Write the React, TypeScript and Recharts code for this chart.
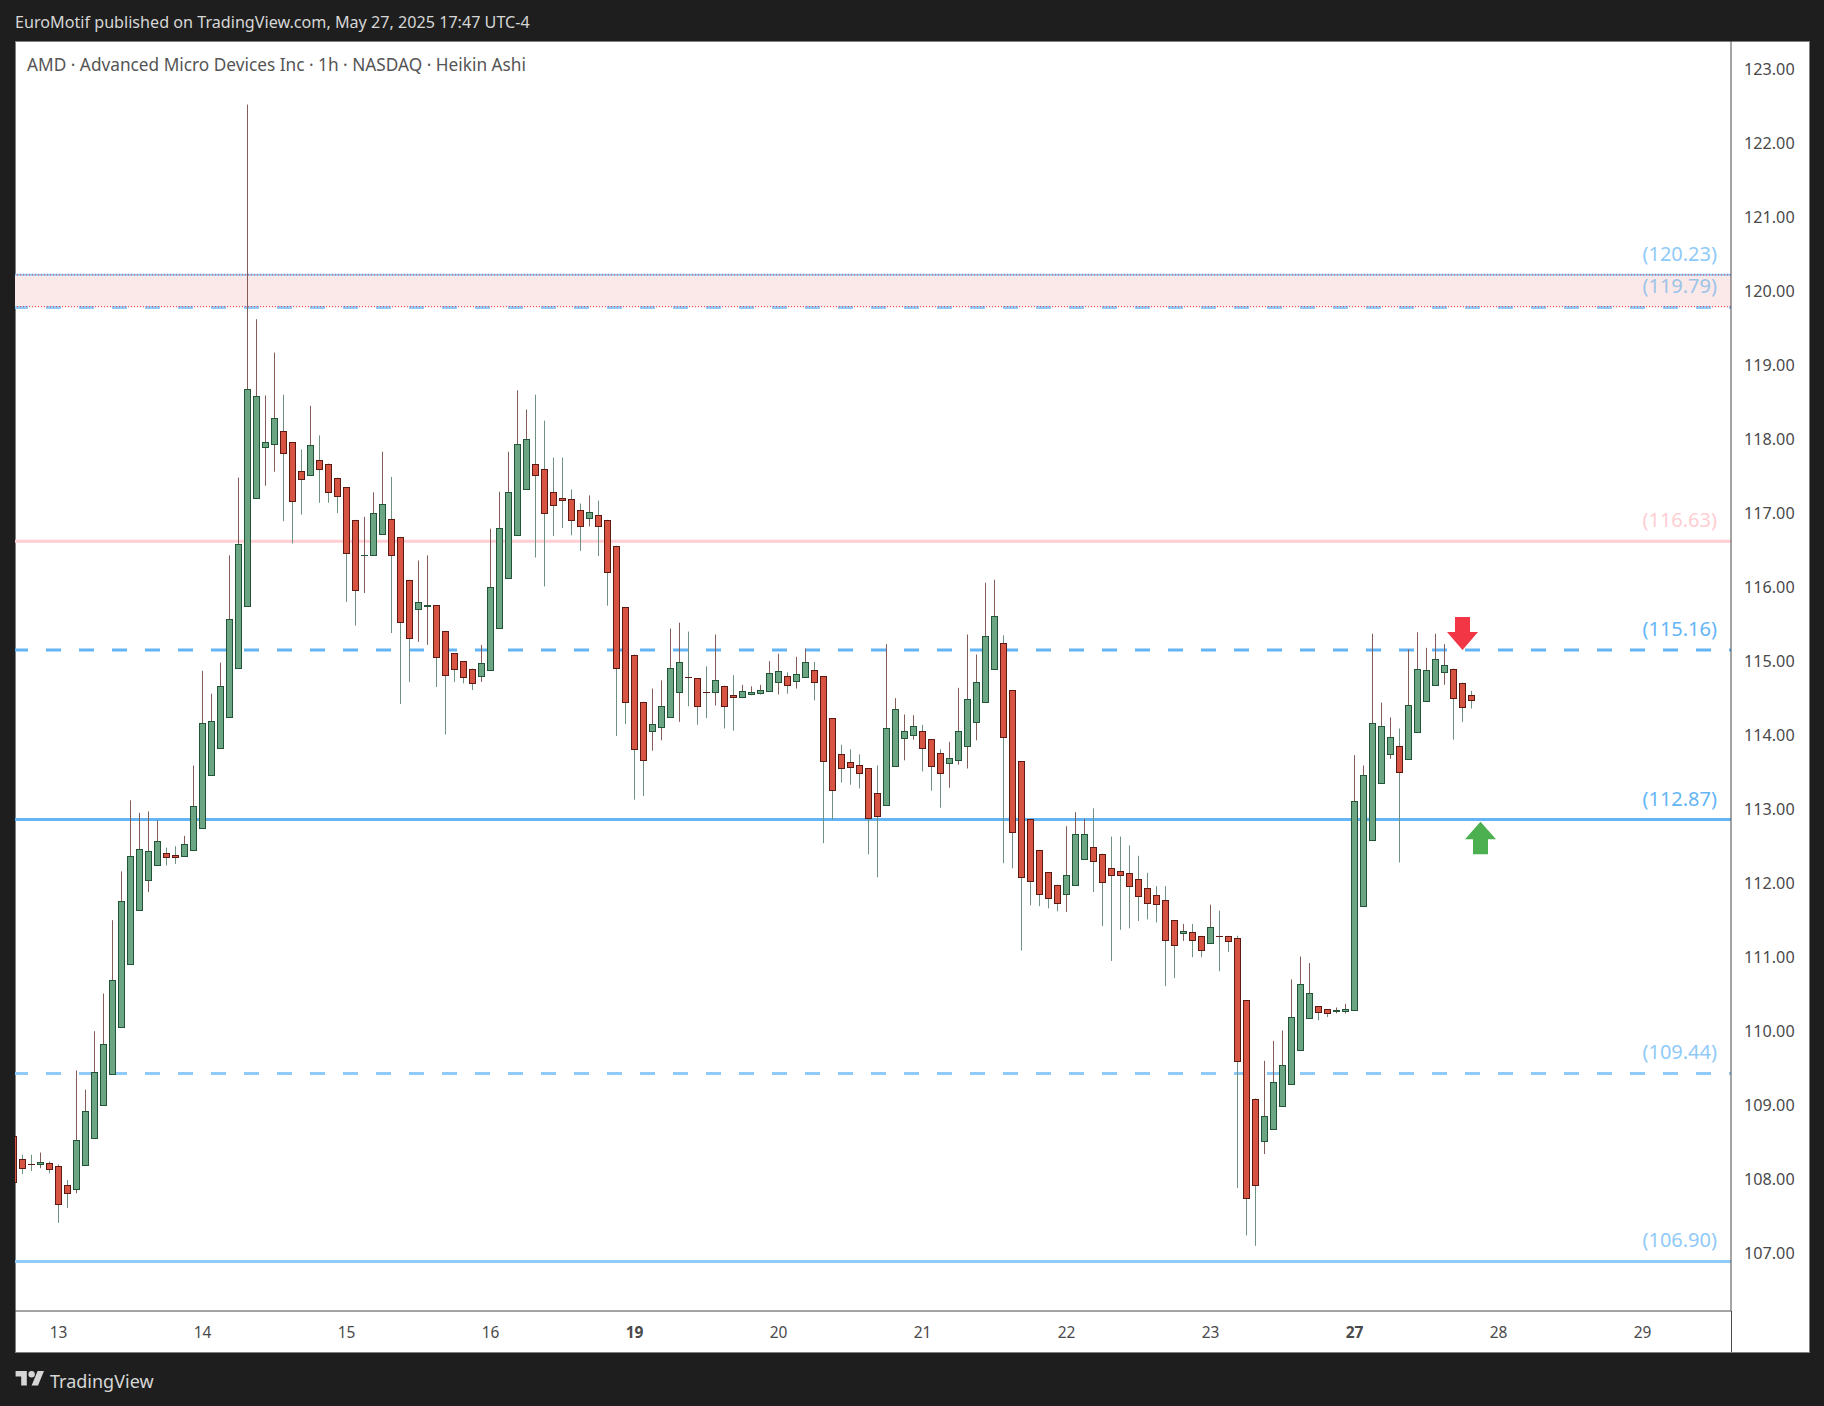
import { Bar, ComposedChart, ReferenceArea, ReferenceDot, ReferenceLine, XAxis, YAxis } from "recharts";

const FONT = "'Noto Sans', sans-serif";
const COLOR_UP = "#6ba583";
const COLOR_UP_BORDER = "#225437";
const COLOR_UP_WICK = "#865c58";
const COLOR_DOWN = "#d75442";
const COLOR_DOWN_BORDER = "#5b1a13";
const COLOR_DOWN_WICK = "#6f9280";
const COLOR_AXIS = "#4a4a4a";
const BLUE = "#64b5f6";
const LIGHT_BLUE = "#90caf9";
const PINK = "#ffcdd2";
const LEVEL_Z = 200;

const opens = [
  108.6, 108.28, 108.22, 108.22, 108.23, 108.19, 107.93, 107.88, 108.2, 108.57,
  109.01, 109.43, 110.07, 110.92, 111.65, 112.05, 112.26, 112.42, 112.39, 112.38,
  112.46, 112.76, 113.47, 113.84, 114.26, 114.92, 115.75, 117.21, 117.9, 117.94,
  118.12, 117.97, 117.58, 117.52, 117.73, 117.68, 117.49, 117.36, 116.92, 116.44,
  116.45, 116.73, 116.93, 116.69, 116.11, 115.72, 115.76, 115.77, 115.42, 115.12,
  115.01, 114.91, 114.81, 114.89, 115.46, 116.14, 116.72, 117.34, 117.68, 117.6,
  117.3, 117.22, 117.2, 117.05, 116.95, 116.99, 116.92, 116.57, 115.74, 115.1,
  114.46, 114.07, 114.12, 114.26, 114.6, 114.8, 114.78, 114.6, 114.6, 114.68,
  114.55, 114.53, 114.56, 114.58, 114.61, 114.73, 114.81, 114.74, 114.8, 114.89,
  114.81, 114.24, 113.76, 113.65, 113.61, 113.56, 113.23, 113.07, 113.6, 113.97,
  114.01, 114.07, 113.96, 113.77, 113.64, 113.68, 113.87, 114.19, 114.46, 114.91,
  115.26, 114.62, 113.66, 112.88, 112.46, 112.16, 111.99, 111.87, 111.99, 112.34,
  112.5, 112.41, 112.22, 112.18, 112.15, 112.06, 111.95, 111.85, 111.78, 111.51,
  111.34, 111.35, 111.3, 111.2, 111.3, 111.3, 111.27, 110.43, 109.1, 108.52,
  108.69, 109.0, 109.29, 109.75, 110.19, 110.35, 110.31, 110.28, 110.28, 110.29,
  111.7, 112.59, 113.37, 113.75, 113.87, 113.69, 114.05, 114.47, 114.69, 114.86,
  114.91, 114.72, 114.55,
];

const closes = [
  107.97, 108.16, 108.21, 108.24, 108.15, 107.68, 107.83, 108.54, 108.93, 109.46,
  109.84, 110.7, 111.77, 112.38, 112.47, 112.45, 112.58, 112.36, 112.37, 112.54,
  113.05, 114.18, 114.2, 114.67, 115.58, 116.59, 118.69, 118.59, 117.97, 118.3,
  117.82, 117.18, 117.47, 117.93, 117.6, 117.29, 117.24, 116.47, 115.97, 116.45,
  117.01, 117.14, 116.45, 115.54, 115.32, 115.81, 115.77, 115.07, 114.82, 114.91,
  114.8, 114.72, 114.99, 116.01, 116.81, 117.3, 117.95, 118.01, 117.53, 117.01,
  117.12, 117.19, 116.92, 116.84, 117.03, 116.84, 116.22, 114.92, 114.46, 113.82,
  113.68, 114.16, 114.41, 114.92, 115.0, 114.79, 114.41, 114.59, 114.76, 114.41,
  114.52, 114.61, 114.6, 114.62, 114.85, 114.88, 114.69, 114.84, 115.0, 114.73,
  113.66, 113.27, 113.56, 113.58, 113.5, 112.89, 112.92, 114.11, 114.37, 114.06,
  114.14, 113.84, 113.6, 113.5, 113.7, 114.07, 114.5, 114.73, 115.35, 115.62,
  113.99, 112.7, 112.1, 112.04, 111.87, 111.81, 111.74, 112.12, 112.68, 112.68,
  112.31, 112.03, 112.12, 112.12, 111.97, 111.84, 111.74, 111.73, 111.24, 111.18,
  111.37, 111.24, 111.11, 111.42, 111.29, 111.23, 109.61, 107.76, 107.93, 108.87,
  109.33, 109.56, 110.2, 110.65, 110.53, 110.27, 110.25, 110.29, 110.31, 113.12,
  113.47, 114.18, 114.14, 113.99, 113.51, 114.42, 114.91, 114.89, 115.04, 114.96,
  114.51, 114.39, 114.49,
];

const highs = [
  108.6, 108.34, 108.34, 108.37, 108.25, 108.21, 108.0, 109.48, 109.22, 110.01,
  110.52, 111.51, 112.17, 113.13, 112.96, 112.98, 112.86, 112.49, 112.51, 112.65,
  113.6, 114.88, 114.57, 114.99, 116.44, 117.49, 122.53, 119.63, 118.6, 119.18,
  118.61, 117.97, 117.87, 118.46, 118.06, 117.68, 117.49, 117.36, 116.92, 116.96,
  117.29, 117.84, 117.5, 116.69, 116.11, 116.37, 116.44, 115.77, 115.42, 115.12,
  115.01, 114.91, 115.23, 116.8, 117.3, 117.84, 118.67, 118.41, 118.61, 118.26,
  117.76, 117.76, 117.33, 117.14, 117.25, 117.18, 116.92, 116.57, 115.74, 115.1,
  114.46, 114.64, 114.75, 115.45, 115.53, 115.41, 114.78, 114.94, 115.37, 114.68,
  114.82, 114.69, 114.67, 114.69, 115.01, 115.11, 114.86, 115.07, 115.18, 115.0,
  114.81, 114.24, 113.88, 113.82, 113.75, 113.56, 113.6, 115.24, 114.51, 114.29,
  114.28, 114.15, 113.96, 113.82, 113.92, 114.65, 115.37, 115.1, 116.07, 116.11,
  115.36, 114.62, 113.66, 112.88, 112.46, 112.16, 111.99, 112.78, 112.97, 112.88,
  113.02, 112.41, 112.64, 112.64, 112.52, 112.38, 112.15, 111.97, 111.97, 111.51,
  111.46, 111.46, 111.3, 111.72, 111.64, 111.3, 111.3, 110.43, 109.1, 109.61,
  109.88, 110.02, 110.71, 111.02, 110.93, 110.35, 110.31, 110.33, 110.38, 113.74,
  113.6, 115.38, 114.45, 114.25, 114.1, 115.17, 115.4, 115.19, 115.38, 115.24,
  114.91, 114.72, 114.61,
];

const lows = [
  107.97, 108.08, 108.12, 108.16, 108.09, 107.42, 107.62, 107.82, 108.2, 108.57,
  109.01, 109.43, 110.07, 110.92, 111.65, 111.89, 112.26, 112.25, 112.27, 112.38,
  112.46, 112.76, 113.47, 113.84, 114.26, 114.92, 115.75, 117.21, 117.38, 117.57,
  116.9, 116.6, 116.99, 117.52, 117.15, 117.15, 117.01, 115.81, 115.49, 115.93,
  116.45, 116.73, 115.39, 114.43, 114.73, 115.27, 115.23, 114.66, 114.02, 114.73,
  114.71, 114.62, 114.73, 114.89, 115.46, 116.14, 116.72, 117.34, 116.41, 116.02,
  116.7, 116.81, 116.71, 116.5, 116.83, 116.43, 115.76, 114.0, 114.16, 113.14,
  113.19, 113.8, 113.94, 114.26, 114.19, 114.4, 114.15, 114.24, 114.41, 114.1,
  114.07, 114.51, 114.55, 114.56, 114.61, 114.56, 114.57, 114.64, 114.8, 114.48,
  112.55, 112.87, 113.37, 113.34, 113.29, 112.4, 112.09, 113.07, 113.6, 113.67,
  113.95, 113.52, 113.26, 113.03, 113.3, 113.61, 113.56, 113.94, 114.46, 114.91,
  112.28, 112.21, 111.1, 111.71, 111.7, 111.67, 111.63, 111.62, 111.99, 112.34,
  111.89, 111.43, 110.96, 111.38, 111.4, 111.5, 111.52, 111.48, 110.62, 110.73,
  111.23, 111.01, 111.01, 111.2, 110.82, 111.08, 107.89, 107.25, 107.11, 108.35,
  108.69, 109.0, 109.29, 109.75, 110.19, 110.16, 110.2, 110.25, 110.25, 110.29,
  111.7, 112.59, 113.37, 113.69, 112.29, 113.69, 114.05, 114.47, 114.69, 114.69,
  113.95, 114.19, 114.37,
];

const priceTicks = [107, 108, 109, 110, 111, 112, 113, 114, 115, 116, 117, 118, 119, 120, 121, 122, 123];
const dayTicks = [5, 21, 37, 53, 69, 85, 101, 117, 133, 149, 165, 181];
const dayLabels = ["13", "14", "15", "16", "19", "20", "21", "22", "23", "27", "28", "29"];
const boldDays = ["19", "27"];

const rows = opens.map((open, i) => ({
  i,
  open,
  close: closes[i],
  high: highs[i],
  low: lows[i],
  range: [lows[i], highs[i]],
}));

// body and wick drawn from the pixel range recharts gives for low..high
const Candle = (props: any) => {
  const { x, y, width, height, payload } = props;
  const { open, close, high, low } = payload;
  const up = close >= open;
  const cx = Math.floor(x + width / 2) + 0.5;
  const perUnit = height / (high - low);
  const yOf = (p: number) => y + (high - p) * perUnit;
  const top = Math.round(yOf(Math.max(open, close))) + 0.5;
  const bottom = Math.round(yOf(Math.min(open, close))) + 0.5;
  const border = up ? COLOR_UP_BORDER : COLOR_DOWN_BORDER;
  return (
    <g>
      <line x1={cx} x2={cx} y1={y} y2={y + height} stroke={up ? COLOR_UP_WICK : COLOR_DOWN_WICK} strokeWidth={1} />
      {bottom - top < 1 ? (
        <line x1={cx - 3.5} x2={cx + 3.5} y1={top} y2={top} stroke={border} strokeWidth={1} />
      ) : (
        <rect x={cx - 3} y={top} width={6} height={bottom - top} fill={up ? COLOR_UP : COLOR_DOWN} stroke={border} strokeWidth={1} />
      )}
    </g>
  );
};

const levelLabel = (text: string, color: string) => (props: any) => {
  const { x, y, width } = props.viewBox;
  return (
    <text x={x + width - 14} y={y - 14} textAnchor="end" fill={color} fontSize={20} fontFamily={FONT}>
      {text}
    </text>
  );
};

const DownArrow = ({ cx, cy }: any) => (
  <path
    d={`M${cx} ${cy}l-15.5 -18h8v-15h15v15h8z`}
    fill="#f23645"
  />
);

const UpArrow = ({ cx, cy }: any) => (
  <path
    d={`M${cx} ${cy}l-15.5 17.5h8v15h15v-15h8z`}
    fill="#4caf50"
  />
);

const DayTick = ({ x, y, payload }: any) => {
  const label = dayLabels[dayTicks.indexOf(payload.value)];
  return (
    <text
      x={x}
      y={y}
      dy={9}
      textAnchor="middle"
      fill={COLOR_AXIS}
      fontSize={15.5}
      fontFamily={FONT}
      fontWeight={boldDays.includes(label) ? 700 : 400}
    >
      {label}
    </text>
  );
};

export default function App() {
  return (
    <div style={{ position: "relative", width: 1824, height: 1406, background: "#1e1e1e", overflow: "hidden", fontFamily: FONT }}>
      <style>{"body{margin:0}"}</style>
      <div style={{ position: "absolute", left: 15, top: 12, color: "#d6d6d6", fontSize: 16.15, lineHeight: "21px", whiteSpace: "nowrap" }}>
        EuroMotif published on TradingView.com, May 27, 2025 17:47 UTC-4
      </div>
      <div style={{ position: "absolute", left: 15, top: 41, width: 1795, height: 1312, boxSizing: "border-box", border: "1px solid #808080", background: "#fff" }} />
      <div style={{ position: "absolute", left: 1731, top: 1311, width: 1, height: 41, background: COLOR_AXIS }} />
      <div style={{ position: "absolute", left: 27, top: 54, color: "#555", fontSize: 17.25, lineHeight: "21px", whiteSpace: "nowrap" }}>
        AMD · Advanced Micro Devices Inc · 1h · NASDAQ · Heikin Ashi
      </div>
      <ComposedChart
        width={1824}
        height={1406}
        data={rows}
        margin={{ top: 41, right: 15, bottom: 54, left: 15 }}
        style={{ position: "absolute", left: 0, top: 0 }}
      >
        <XAxis
          dataKey="i"
          type="number"
          domain={[1 / 6, 190 + 5 / 6]}
          allowDataOverflow
          ticks={dayTicks}
          interval={0}
          height={41}
          tick={<DayTick />}
          tickLine={false}
          tickMargin={12}
          axisLine={{ stroke: COLOR_AXIS }}
        />
        <YAxis
          orientation="right"
          type="number"
          domain={[106.2296, 123.3894]}
          allowDataOverflow
          ticks={priceTicks}
          interval={0}
          width={78}
          tick={{ fill: COLOR_AXIS, fontSize: 16.2, fontFamily: FONT, dy: -1 }}
          tickFormatter={(v: number) => v.toFixed(2)}
          tickLine={false}
          tickMargin={7}
          axisLine={{ stroke: COLOR_AXIS }}
        />
        <ReferenceArea y1={119.79} y2={120.23} fill="#fbe9e9" fillOpacity={1} stroke="none" zIndex={LEVEL_Z} />
        <ReferenceLine y={120.23} stroke={LIGHT_BLUE} strokeWidth={2} zIndex={LEVEL_Z} label={levelLabel("(120.23)", LIGHT_BLUE)} />
        <ReferenceLine y={120.23} stroke="#f23645" strokeWidth={1} strokeDasharray="1 2" zIndex={LEVEL_Z} />
        <ReferenceLine y={119.79} stroke={LIGHT_BLUE} strokeWidth={3} strokeDasharray="15 18" strokeDashoffset={13} zIndex={LEVEL_Z} label={levelLabel("(119.79)", "#9cc3e8")} />
        <ReferenceLine y={119.80} stroke="#f23645" strokeWidth={1} strokeDasharray="1 2" zIndex={LEVEL_Z} />
        <ReferenceLine y={116.63} stroke={PINK} strokeWidth={3} zIndex={LEVEL_Z} label={levelLabel("(116.63)", PINK)} />
        <ReferenceLine y={115.16} stroke={BLUE} strokeWidth={3} strokeDasharray="15 18" strokeDashoffset={13} zIndex={LEVEL_Z} label={levelLabel("(115.16)", BLUE)} />
        <ReferenceLine y={112.87} stroke={BLUE} strokeWidth={3} zIndex={LEVEL_Z} label={levelLabel("(112.87)", BLUE)} />
        <ReferenceLine y={109.44} stroke={LIGHT_BLUE} strokeWidth={3} strokeDasharray="15 18" strokeDashoffset={13} zIndex={LEVEL_Z} label={levelLabel("(109.44)", LIGHT_BLUE)} />
        <ReferenceLine y={106.9} stroke={LIGHT_BLUE} strokeWidth={3} zIndex={LEVEL_Z} label={levelLabel("(106.90)", LIGHT_BLUE)} />
        <Bar dataKey="range" barSize={7} shape={<Candle />} isAnimationActive={false} zIndex={450} />
        <ReferenceDot x={161} y={115.16} r={1} shape={<DownArrow />} zIndex={600} />
        <ReferenceDot x={163} y={112.84} r={1} shape={<UpArrow />} zIndex={600} />
      </ComposedChart>
      <svg width={30} height={16} viewBox="0 0 36 20" style={{ position: "absolute", left: 15, top: 1371 }}>
        <path d="M14 18H7V7H0V0h14v18zM28 18h-8L27.5 0h8L28 18z" fill="#d6d6d6" />
        <circle cx={20} cy={4} r={4} fill="#d6d6d6" />
      </svg>
      <div style={{ position: "absolute", left: 50, top: 1369, color: "#d6d6d6", fontSize: 18, lineHeight: "24px", whiteSpace: "nowrap" }}>
        TradingView
      </div>
    </div>
  );
}
